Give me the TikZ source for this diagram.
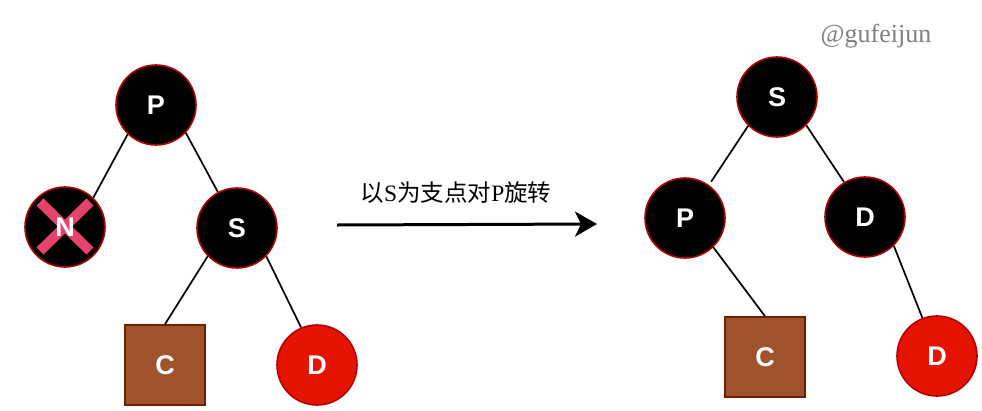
\documentclass[tikz,border=0pt]{standalone}
\usepackage{fontspec}
\setmainfont{Liberation Sans}
\newfontfamily\cjkfont{Noto Sans CJK SC}
\newfontfamily\seriffont{Liberation Serif}
\usetikzlibrary{arrows.meta}
\definecolor{nodeborder}{RGB}{178,0,0}
\definecolor{redfill}{RGB}{229,20,0}
\definecolor{brownfill}{RGB}{160,82,45}
\definecolor{brownborder}{RGB}{109,31,0}
\definecolor{crosspink}{RGB}{229,67,107}
\definecolor{wmgray}{RGB}{128,128,128}
\tikzset{
  nodefont/.style={font=\fontsize{27}{27}\selectfont\bfseries},
  blacknode/.style={circle, fill=black, draw=nodeborder, line width=1.6pt, minimum size=80pt, inner sep=0pt, text=white, nodefont},
  rednode/.style={blacknode, fill=redfill},
  sqnode/.style={rectangle, fill=brownfill, draw=brownborder, line width=1.6pt, minimum size=80pt, inner sep=0pt, text=white, nodefont},
  edge/.style={line width=1.7pt, black},
  crossbar/.style={line width=10pt, crosspink},
}
\begin{document}
\begin{tikzpicture}[x=1pt, y=-1pt]
\useasboundingbox (0,0) rectangle (982,410);
% left tree
\node[blacknode] (P1) at (156,105) {P};
\node[blacknode] (N1) at (65,227) {};
\draw[crossbar] (40,202) -- (90,251);
\draw[crossbar] (90,202) -- (40,251);
\node[text=white, nodefont] (N1t) at (65,227) {N};
\node[blacknode] (S1) at (237,228) {S};
\node[sqnode] (C1) at (165,365) {C};
\node[rednode] (D1) at (317,365) {D};
\draw[edge] (P1.226) -- (N1.46);
\draw[edge] (P1.317) -- (S1.118);
\draw[edge] (S1.224) -- (C1.north);
\draw[edge] (S1.316) -- (D1.113);
% arrow
\coordinate (A0) at (337,225);
\coordinate (A1) at (597,224);
\draw[line width=3pt, -{Stealth[length=22pt,width=25pt,inset=6pt]}] (A0) -- (A1);
\node[font=\fontsize{23.5}{23.5}\selectfont] (lbl) at (456,193) {\cjkfont 以\seriffont S\cjkfont 为支点对\seriffont P\cjkfont 旋转};
% watermark
\node[text=wmgray, font=\seriffont\fontsize{26}{26}\selectfont] (wm) at (876,36) {@gufeijun};
% right tree
\node[blacknode] (S2) at (777,97) {S};
\node[blacknode] (P2) at (685,218) {P};
\node[blacknode] (D2) at (865,217) {D};
\node[sqnode] (C2) at (765,357) {C};
\node[rednode] (D3) at (937,356) {D};
\draw[edge, shorten >=4pt] (S2.225) -- (P2.54);
\draw[edge] (S2.316) -- (D2.121);
\draw[edge] (P2.314) -- (C2.north);
\draw[edge] (D2.315) -- (D3.111);
\end{tikzpicture}
\end{document}
